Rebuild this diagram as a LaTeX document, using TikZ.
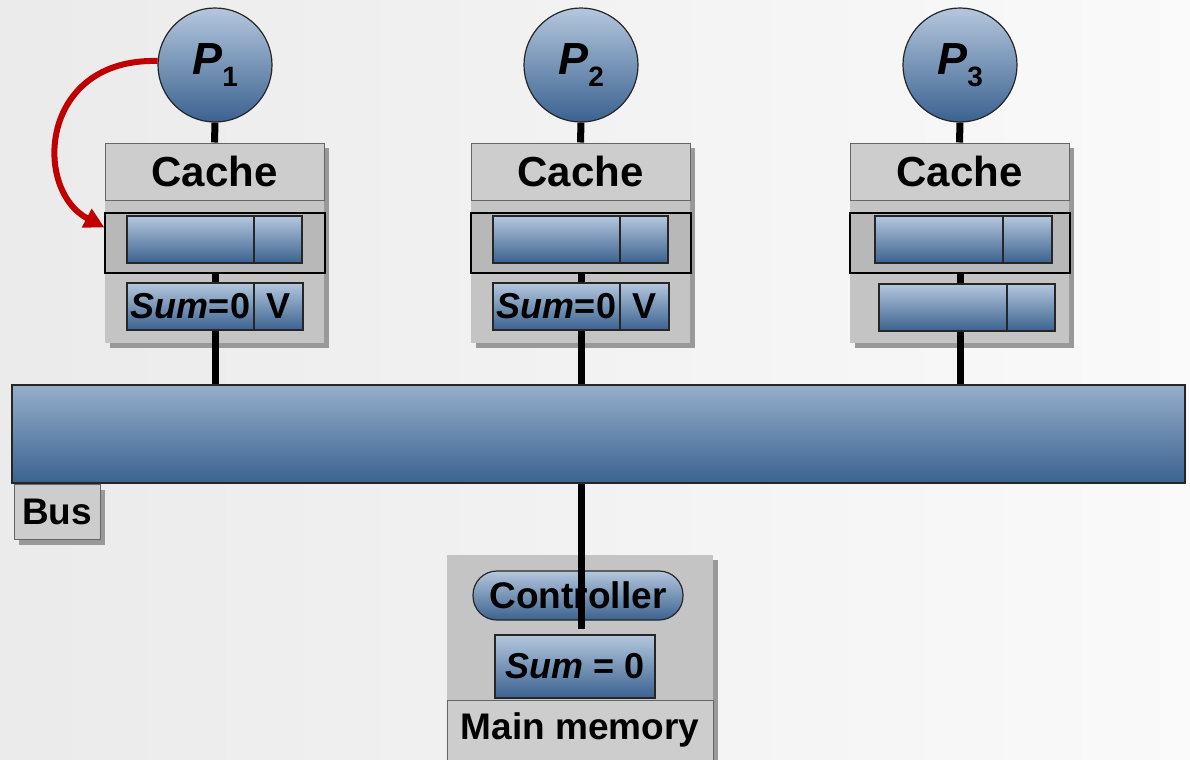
\documentclass[tikz,border=0pt]{standalone}
\usepackage{fontspec}
\setmainfont{Liberation Sans}
\usepackage{xcolor}
\usepackage{tikz}
\usetikzlibrary{arrows.meta, shadows}

\definecolor{bluetop}{HTML}{B4C7DD}
\definecolor{bluebot}{HTML}{3B6290}
\definecolor{panelgray}{HTML}{C4C4C4}
\definecolor{headgray}{HTML}{CDCDCD}
\definecolor{framegray}{HTML}{B8B8B8}
\definecolor{arrowred}{HTML}{C00000}

\begin{document}
\begin{tikzpicture}[x=0.5pt, y=-0.5pt,
    proc/.style={circle, draw=black!85, line width=0.6pt, top color=bluetop,
        bottom color=bluebot, minimum size=57pt, inner sep=0pt,
        font=\fontsize{22.5}{26}\selectfont\bfseries},
    panel/.style={fill=panelgray, inner sep=0pt, drop shadow={shadow xshift=2.5pt,
        shadow yshift=-2.5pt, fill=black!40, opacity=1}},
    header/.style={fill=headgray, draw=black!60, line width=0.5pt, inner sep=0pt,
        font=\fontsize{21}{25}\selectfont\bfseries},
    tag/.style={header, font=\fontsize{18.5}{22}\selectfont\bfseries},
    rowframe/.style={fill=framegray, draw=black, line width=0.6pt,
        minimum width=110pt, minimum height=30pt, inner sep=0pt},
    cell/.style={draw=black!85, line width=0.6pt, top color=bluetop,
        bottom color=bluebot, minimum height=23.5pt, inner sep=0pt,
        font=\fontsize{18}{22}\selectfont\bfseries},
    wire/.style={line width=3.5pt, black},
    redarrow/.style={line width=3pt, arrowred, -{Triangle[length=10pt, width=10pt]}}]

    \fill[left color=black!8, right color=black!2] (0,0) rectangle (1190,760);
    \useasboundingbox (0,0) rectangle (1190,760);

    % bus
    \node[cell, top color=bluetop!75!bluebot, minimum width=586.5pt,
        minimum height=49pt] (bus) at (598.5,434) {};
    \node[tag, minimum width=43pt, minimum height=27.5pt, drop shadow={shadow xshift=2.5pt,
        shadow yshift=-2.5pt, fill=black!40, opacity=1}] (buslabel) at (57,512) {Bus};

    % processors
    \node[proc] (proc1) at (215,65) {\textit{P}\raisebox{-6pt}{\fontsize{14}{16}\selectfont 1}};
    \node[proc] (proc2) at (581,65) {\textit{P}\raisebox{-6pt}{\fontsize{14}{16}\selectfont 2}};
    \node[proc] (proc3) at (960,65) {\textit{P}\raisebox{-6pt}{\fontsize{14}{16}\selectfont 3}};

    % caches
    \node[panel, minimum width=109.5pt, minimum height=100pt] (cache1) at (214.5,243) {};
    \node[panel, minimum width=109.5pt, minimum height=100pt] (cache2) at (580.5,243) {};
    \node[panel, minimum width=109.5pt, minimum height=100pt] (cache3) at (959.5,243) {};
    \node[header, minimum width=109.5pt, minimum height=28.5pt] (head1) at (214.5,171.5) {Cache};
    \node[header, minimum width=109.5pt, minimum height=28.5pt] (head2) at (580.5,171.5) {Cache};
    \node[header, minimum width=109.5pt, minimum height=28.5pt] (head3) at (959.5,171.5) {Cache};
    \node[rowframe] (frame1) at (215,243) {};
    \node[rowframe] (frame2) at (581,243) {};
    \node[rowframe] (frame3) at (960,243) {};

    \draw[wire] (proc1.south) -- (head1.north);
    \draw[wire] (proc2.south) -- (head2.north);
    \draw[wire] (proc3.south) -- (head3.north);
    \draw[wire] (frame1.south) -- (frame1.south |- bus.north);
    \draw[wire] (frame2.south) -- (frame2.south |- bus.north);
    \draw[wire] (frame3.south) -- (frame3.south |- bus.north);

    \node[cell, minimum width=63.5pt] (line1) at (190.5,239.5) {};
    \node[cell, minimum width=24pt] (flag1) at (278,239.5) {};
    \node[cell, minimum width=63.5pt] (sum1) at (190.5,306.5) {\textit{Sum}=0};
    \node[cell, minimum width=24.5pt] (valid1) at (278.5,306.5) {V};
    \node[cell, minimum width=63.5pt] (line2) at (556.5,239.5) {};
    \node[cell, minimum width=24pt] (flag2) at (644,239.5) {};
    \node[cell, minimum width=63.5pt] (sum2) at (556.5,306.5) {\textit{Sum}=0};
    \node[cell, minimum width=24.5pt] (valid2) at (644.5,306.5) {V};
    \node[cell, minimum width=64pt] (line3) at (939,239.5) {};
    \node[cell, minimum width=24.5pt] (flag3) at (1027.5,239.5) {};
    \node[cell, minimum width=64pt] (sum3) at (943,307.5) {};
    \node[cell, minimum width=24pt] (valid3) at (1031,307.5) {};

    \draw[redarrow] (proc1.176) .. controls +(-118,-3) and +(-72,-38) .. (frame1.172);

    % main memory
    \node[panel, minimum width=133pt, minimum height=101pt] (memory) at (580,656) {};
    \node[header, minimum width=133pt, minimum height=30pt,
        font=\fontsize{18.5}{22}\selectfont\bfseries] (memhead) at (580,730) {Main memory};
    \node[cell, rounded corners=12pt, minimum width=105pt, minimum height=24.5pt,
        font=\fontsize{18.5}{22}\selectfont\bfseries] (ctrl) at (578,595.5) {Controller};
    \draw[wire, shorten >=-4pt] (bus.south -| proc2) -- (ctrl.south -| proc2);
    \node[cell, minimum width=80pt, minimum height=31.5pt] (memsum) at (575,666.5) {\textit{Sum} = 0};
\end{tikzpicture}
\end{document}
